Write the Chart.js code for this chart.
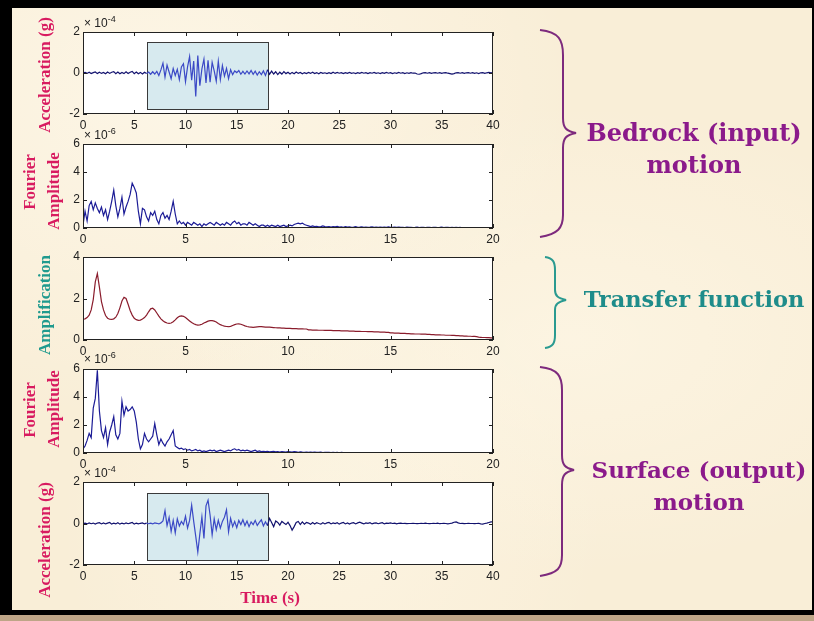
<!DOCTYPE html>
<html>
<head>
<meta charset="utf-8">
<script src="https://cdn.jsdelivr.net/npm/chart.js@4/dist/chart.umd.min.js"></script>
<style>
  html, body { margin: 0; padding: 0; }
  body { width: 814px; height: 621px; position: relative; overflow: hidden; background: #bea587; }
  #borde { position: absolute; left: 0; top: 0; width: 814px; height: 615px; background: #000; }
  #papel {
    position: absolute; left: 12px; top: 8px; width: 800px; height: 602px;
    background:
      radial-gradient(ellipse at 20% 15%, rgba(255,251,240,0.6), rgba(255,251,240,0) 45%),
      radial-gradient(ellipse at 70% 55%, rgba(255,250,236,0.5), rgba(255,250,236,0) 50%),
      radial-gradient(ellipse at 40% 85%, rgba(255,249,234,0.5), rgba(255,249,234,0) 40%),
      #f9eed7;
  }
  canvas { position: absolute; left: 12px; }
  .ytit {
    position: absolute; white-space: nowrap;
    font: bold 17px "Liberation Serif", "Times New Roman", serif;
    color: #d81b60;
    transform: translate(-50%, -50%) rotate(-90deg);
  }
  .teal { color: #1f9a8e; }
  .expo { position: absolute; font: 12px "Liberation Sans", Arial, sans-serif; color: #222; white-space: nowrap; }
  .expo sup { font-size: 9px; vertical-align: 5px; }
  .lado {
    position: absolute; left: 563px; width: 262px; text-align: center;
    font: bold 24px "DejaVu Serif", serif; line-height: 32px; color: #8b1a8b;
  }
  #tiempoTit { position: absolute; left: 270px; top: 598px; transform: translate(-50%, -50%);
    font: bold 17px "Liberation Serif", serif; color: #d81b60; white-space: nowrap; }
  svg { position: absolute; left: 0; top: 0; }
</style>
</head>
<body>
<div id="borde"></div>
<div id="papel"></div>

<canvas id="acelRoca" width="500" height="116" style="top:20px"></canvas>
<canvas id="fourierRoca" width="500" height="118" style="top:132px"></canvas>
<canvas id="transferencia" width="500" height="117" style="top:245px"></canvas>
<canvas id="fourierSuperficie" width="500" height="118" style="top:357px"></canvas>
<canvas id="acelSuperficie" width="500" height="117" style="top:470px"></canvas>

<div class="expo" style="left:84px; top:14px">× 10<sup>-4</sup></div>
<div class="expo" style="left:84px; top:126px">× 10<sup>-6</sup></div>
<div class="expo" style="left:84px; top:350px">× 10<sup>-6</sup></div>
<div class="expo" style="left:84px; top:464px">× 10<sup>-4</sup></div>

<div class="ytit" style="left:45px; top:75px">Acceleration (g)</div>
<div class="ytit" style="left:30px; top:182px">Fourier</div>
<div class="ytit" style="left:54px; top:191px">Amplitude</div>
<div class="ytit teal" style="left:45px; top:305px">Amplification</div>
<div class="ytit" style="left:30px; top:410px">Fourier</div>
<div class="ytit" style="left:54px; top:409px">Amplitude</div>
<div class="ytit" style="left:45px; top:540px">Acceleration (g)</div>
<div id="tiempoTit">Time (s)</div>

<svg width="814" height="621">
  <path d="M540,30 C559,32 563,40 563,55 L563,118 C563,128 566,131 576,133 C566,135 563,138 563,148 L563,215 C563,228 558,234 540,237"
        fill="none" stroke="#7d2a7d" stroke-width="2"/>
  <path d="M545,257 C553,258 555,262 555,270 L555,290 C555,296 558,298 566,300 C558,302 555,304 555,310 L555,335 C555,343 553,347 545,348"
        fill="none" stroke="#2a9a90" stroke-width="2"/>
  <path d="M540,367 C558,369 562,376 562,390 L562,455 C562,465 565,468 574,470 C565,472 562,475 562,485 L562,555 C562,568 558,573 540,576"
        fill="none" stroke="#7d2a7d" stroke-width="2"/>
</svg>

<div class="lado" style="top:117px">Bedrock (input)<br>motion</div>
<div class="lado" style="top:283px; color:#1e8c8a; font-size:22.5px">Transfer function</div>
<div class="lado" style="top:454px; left:568px; font-size:23px">Surface (output)<br>motion</div>

<script>
// Rejillas de muestreo
const tiempo = Array.from({ length: 201 }, (_, i) => +(i * 0.2).toFixed(1));      // s
const frecuencia = Array.from({ length: 201 }, (_, i) => +(i * 0.1).toFixed(1));  // Hz

// Aceleración en roca (x 10^-4 g), cada 0.2 s
const acelRoca = [
  0.00, 0.03, -0.02, 0.04, -0.03, 0.02, 0.05, -0.03, 0.04, -0.02,
  0.03, -0.04, 0.05, -0.02, 0.04, 0.07, -0.03, 0.05, -0.04, 0.03,
  -0.03, 0.06, -0.02, 0.04, 0.08, -0.03, 0.05, -0.04, 0.03, -0.05,
  0.04, -0.03, 0.05, -0.06, 0.06, -0.05, 0.08, -0.12, 0.15, 0.48,
  -0.20, 0.38, 0.05, -0.28, 0.22, -0.12, 0.18, -0.32, 0.30, 0.45,
  -0.42, 0.30, 0.80, -0.35, 0.58, -1.15, 0.85, -0.62, 0.20, 0.68,
  -0.48, 0.62, -0.45, 0.52, 0.10, -0.40, 0.58, -0.32, 0.36, -0.15,
  0.22, -0.28, 0.16, -0.08, 0.10, 0.02, 0.12, -0.06, 0.08, -0.05,
  0.10, -0.04, 0.12, -0.06, 0.09, -0.10, 0.06, -0.08, 0.10, -0.12,
  0.16, -0.06, 0.09, -0.05, 0.06, -0.08, 0.04, -0.05, 0.07, -0.03,
  0.04, -0.05, 0.03, -0.04, 0.05, -0.02, 0.03, -0.04, 0.02, -0.03,
  0.03, -0.02, 0.04, -0.03, 0.02, -0.04, 0.03, -0.02, 0.01, -0.03,
  0.02, -0.03, 0.04, -0.02, 0.03, -0.01, 0.02, -0.03, 0.02, -0.02,
  0.03, -0.02, 0.01, -0.03, 0.02, -0.02, 0.03, -0.01, 0.02, -0.03,
  0.02, -0.01, 0.03, -0.02, 0.01, -0.03, 0.02, -0.02, 0.03, -0.01,
  0.02, -0.03, 0.01, -0.02, 0.03, -0.01, 0.02, -0.03, 0.01, -0.02,
  0.02, -0.01, 0.00, -0.05, -0.06, -0.03, 0.01, 0.02, -0.01, 0.02,
  -0.02, 0.01, 0.02, -0.01, 0.02, -0.02, 0.01, 0.02, -0.01, -0.03,
  -0.05, -0.03, 0.01, 0.02, -0.01, 0.02, -0.02, 0.01, 0.02, -0.01,
  0.02, -0.02, 0.01, -0.03, 0.01, 0.02, -0.02, 0.01, 0.03, 0.01,
  0.02
];

// Espectro de Fourier en roca (x 10^-6), cada 0.1 Hz
const fourierRoca = [
  0.2, 1.2, 0.5, 1.6, 1.9, 1.3, 1.8, 1.4, 1.1, 1.5,
  0.9, 1.3, 0.6, 1.2, 1.9, 2.7, 1.6, 0.8, 1.4, 2.2,
  1.0, 1.5, 1.9, 2.4, 3.2, 2.9, 2.5, 1.2, 0.3, 1.4,
  1.3, 0.8, 0.5, 1.1, 0.9, 1.2, 0.6, 0.3, 0.9, 1.1,
  0.7, 0.9, 0.6, 1.2, 1.9, 1.0, 0.3, 0.5, 0.3, 0.4,
  0.2, 0.4, 0.3, 0.2, 0.4, 0.3, 0.2, 0.3, 0.1, 0.3,
  0.2, 0.3, 0.4, 0.3, 0.2, 0.4, 0.3, 0.2, 0.3, 0.2,
  0.4, 0.3, 0.2, 0.4, 0.5, 0.3, 0.4, 0.2, 0.3, 0.3,
  0.2, 0.4, 0.3, 0.2, 0.3, 0.2, 0.1, 0.2, 0.2, 0.1,
  0.2, 0.1, 0.2, 0.15, 0.1, 0.2, 0.1, 0.15, 0.2, 0.1,
  0.15, 0.2, 0.15, 0.25, 0.3, 0.35, 0.3, 0.35, 0.25, 0.2,
  0.15, 0.1, 0.15, 0.1, 0.12, 0.08, 0.1, 0.15, 0.1, 0.08,
  0.1, 0.06, 0.1, 0.08, 0.12, 0.06, 0.08, 0.05, 0.1, 0.06,
  0.08, 0.05, 0.07, 0.1, 0.05, 0.06, 0.08, 0.04, 0.07, 0.05,
  0.06, 0.08, 0.04, 0.06, 0.05, 0.07, 0.04, 0.06, 0.05, 0.08,
  0.05, 0.04, 0.06, 0.05, 0.07, 0.04, 0.05, 0.03, 0.06, 0.04,
  0.05, 0.03, 0.04, 0.06, 0.03, 0.05, 0.04, 0.03, 0.05, 0.04,
  0.03, 0.05, 0.04, 0.03, 0.04, 0.06, 0.03, 0.04, 0.05, 0.03,
  0.04, 0.03, 0.05, 0.03, 0.04, 0.00, 0.00, 0.00, 0.00, 0.00,
  0.00, 0.00, 0.00, 0.00, 0.00, 0.00, 0.00, 0.00, 0.00, 0.00,
  0.00
];

// Función de transferencia (amplificación), cada 0.1 Hz
const amplificacion = [
  1.00, 1.02, 1.08, 1.20, 1.45, 1.95, 2.80, 3.20, 2.55, 1.85,
  1.45, 1.18, 1.05, 1.00, 0.99, 1.02, 1.10, 1.28, 1.55, 1.88,
  2.06, 2.00, 1.72, 1.42, 1.20, 1.05, 0.98, 0.95, 0.96, 1.01,
  1.08, 1.20, 1.36, 1.50, 1.53, 1.45, 1.30, 1.15, 1.02, 0.93,
  0.86, 0.82, 0.80, 0.82, 0.88, 0.97, 1.07, 1.14, 1.16, 1.14,
  1.08, 1.00, 0.92, 0.84, 0.78, 0.74, 0.72, 0.73, 0.76, 0.82,
  0.86, 0.91, 0.93, 0.93, 0.91, 0.87, 0.80, 0.74, 0.70, 0.67,
  0.65, 0.64, 0.66, 0.70, 0.74, 0.77, 0.78, 0.76, 0.72, 0.68,
  0.65, 0.63, 0.62, 0.61, 0.62, 0.63, 0.64, 0.64, 0.63, 0.62,
  0.62, 0.62, 0.61, 0.60, 0.59, 0.58, 0.58, 0.57, 0.57, 0.56,
  0.56, 0.56, 0.55, 0.55, 0.55, 0.54, 0.54, 0.54, 0.53, 0.53,
  0.49, 0.49, 0.48, 0.48, 0.48, 0.47, 0.47, 0.47, 0.46, 0.46,
  0.46, 0.46, 0.45, 0.45, 0.45, 0.45, 0.44, 0.44, 0.44, 0.44,
  0.43, 0.43, 0.43, 0.42, 0.42, 0.42, 0.41, 0.41, 0.41, 0.40,
  0.40, 0.40, 0.39, 0.39, 0.39, 0.38, 0.38, 0.38, 0.37, 0.37,
  0.34, 0.34, 0.33, 0.33, 0.33, 0.32, 0.32, 0.32, 0.31, 0.31,
  0.30, 0.30, 0.29, 0.29, 0.29, 0.28, 0.28, 0.28, 0.27, 0.27,
  0.26, 0.26, 0.25, 0.25, 0.25, 0.24, 0.24, 0.23, 0.23, 0.23,
  0.22, 0.22, 0.21, 0.21, 0.20, 0.20, 0.19, 0.19, 0.18, 0.18,
  0.17, 0.17, 0.16, 0.14, 0.13, 0.12, 0.12, 0.11, 0.11, 0.10,
  0.10
];

// Espectro de Fourier en superficie (x 10^-6), cada 0.1 Hz
const fourierSuperficie = [
  0.3, 0.5, 0.9, 1.4, 1.1, 3.2, 3.9, 5.9, 3.0, 1.6,
  1.1, 1.8, 0.6, 1.5, 2.0, 2.6, 1.3, 1.0, 1.4, 3.7,
  2.7, 3.3, 3.0, 3.1, 3.3, 3.0, 2.2, 1.0, 0.3, 0.6,
  1.4, 1.0, 0.8, 1.0, 1.2, 2.1, 1.3, 0.6, 1.0, 0.7,
  0.5, 0.8, 1.0, 1.3, 1.6, 0.5, 0.4, 0.3, 0.35, 0.25,
  0.3, 0.2, 0.25, 0.15, 0.2, 0.25, 0.15, 0.2, 0.1, 0.15,
  0.1, 0.15, 0.2, 0.15, 0.2, 0.1, 0.15, 0.2, 0.15, 0.1,
  0.15, 0.2, 0.15, 0.25, 0.3, 0.2, 0.25, 0.15, 0.2, 0.15,
  0.2, 0.15, 0.1, 0.15, 0.2, 0.1, 0.15, 0.1, 0.12, 0.1,
  0.12, 0.08, 0.1, 0.12, 0.08, 0.1, 0.06, 0.1, 0.08, 0.06,
  0.1, 0.08, 0.06, 0.1, 0.08, 0.05, 0.08, 0.06, 0.05, 0.07,
  0.05, 0.06, 0.04, 0.06, 0.05, 0.04, 0.06, 0.03, 0.05, 0.04,
  0.04, 0.03, 0.05, 0.03, 0.04, 0.02, 0.04, 0.03, 0.02, 0.03,
  0.02, 0.03, 0.02, 0.02, 0.01, 0.02, 0.01, 0.02, 0.01, 0.01,
  0.02, 0.01, 0.02, 0.01, 0.02, 0.01, 0.01, 0.02, 0.01, 0.02,
  0.01, 0.02, 0.01, 0.01, 0.02, 0.01, 0.02, 0.01, 0.01, 0.02,
  0.01, 0.01, 0.02, 0.01, 0.01, 0.02, 0.01, 0.01, 0.02, 0.01,
  0.01, 0.02, 0.01, 0.01, 0.01, 0.02, 0.01, 0.01, 0.01, 0.02,
  0.01, 0.01, 0.02, 0.01, 0.01, 0.01, 0.01, 0.02, 0.01, 0.01,
  0.01, 0.01, 0.01, 0.02, 0.01, 0.01, 0.01, 0.01, 0.01, 0.01,
  0.01
];

// Aceleración en superficie (x 10^-4 g), cada 0.2 s
const acelSuperficie = [
  0.00, 0.02, -0.02, 0.03, -0.01, 0.02, -0.03, 0.02, 0.04, -0.02,
  0.03, -0.02, 0.02, 0.05, -0.03, 0.02, -0.02, 0.04, -0.03, 0.02,
  -0.02, 0.03, -0.01, 0.02, 0.05, -0.03, 0.02, -0.02, 0.01, 0.03,
  -0.02, 0.02, -0.01, 0.02, -0.02, 0.03, 0.01, -0.02, 0.03, 0.12,
  0.62, -0.10, 0.30, -0.38, 0.15, -0.45, 0.22, -0.12, 0.10, -0.05,
  0.35, -0.22, 0.15, 0.88, 0.10, -0.62, -1.38, -0.50, 0.32, -0.72,
  0.85, 1.12, 0.40, -0.55, 0.22, -0.30, 0.15, -0.22, 0.10, 0.30,
  0.66, -0.40, 0.25, -0.15, 0.10, -0.20, 0.15, -0.05, 0.18, -0.10,
  0.12, -0.15, 0.08, -0.05, 0.15, -0.10, 0.05, 0.18, -0.12, 0.08,
  -0.10, 0.25, 0.05, -0.15, 0.12, 0.05, -0.08, 0.10, 0.02, -0.05,
  0.06, -0.10, -0.32, -0.15, 0.05, 0.10, -0.05, 0.08, -0.03, 0.05,
  0.02, -0.04, 0.05, -0.02, 0.04, 0.00, -0.03, 0.04, -0.02, 0.03,
  0.05, -0.02, 0.03, 0.00, 0.04, -0.03, 0.02, 0.05, -0.02, 0.03,
  -0.03, 0.02, 0.04, -0.02, 0.03, 0.06, 0.02, -0.02, 0.03, 0.01,
  0.04, -0.02, 0.02, 0.03, -0.01, 0.02, 0.04, -0.02, 0.02, 0.01,
  0.03, 0.00, 0.02, -0.02, 0.01, 0.02, 0.00, 0.01, -0.01, 0.00,
  0.00, 0.01, 0.00, -0.01, 0.00, 0.01, 0.00, 0.02, 0.00, -0.01,
  0.00, 0.01, 0.00, 0.02, -0.01, 0.00, 0.01, 0.00, -0.02, 0.00,
  0.02, 0.06, 0.08, 0.03, 0.00, 0.01, -0.01, 0.00, 0.01, 0.00,
  0.00, -0.01, 0.00, 0.01, -0.02, -0.03, 0.00, 0.02, 0.05, 0.08,
  0.08
];

// Ventana de movimiento fuerte [t inicio, t fin, y min, y max]
const ventanaRoca = [6.2, 18, -1.75, 1.5];
const ventanaSuperficie = [6.2, 18, -1.75, 1.45];

const azulOscuro = '#12126e';
const azulClaro = '#3b49c6';

Chart.defaults.font.family = '"Liberation Sans", Arial, sans-serif';
Chart.defaults.font.size = 12;
Chart.defaults.color = '#222';

// Marco estilo MATLAB: fondo blanco, caja, ventana sombreada y marcas hacia dentro
const marcoMatlab = {
    id: 'marcoMatlab',
    beforeDraw(chart) {
        const { ctx, chartArea: a } = chart;
        ctx.save();
        ctx.fillStyle = '#ffffff';
        ctx.fillRect(a.left, a.top, a.width, a.height);
        ctx.restore();
    },
    beforeDatasetsDraw(chart, args, opts) {
        const v = opts.ventana;
        if (!v) return;
        const { ctx, scales: { x, y } } = chart;
        const x0 = Math.round(x.getPixelForValue(v[0]));
        const x1 = Math.round(x.getPixelForValue(v[1]));
        const y0 = Math.round(y.getPixelForValue(v[3]));
        const y1 = Math.round(y.getPixelForValue(v[2]));
        ctx.save();
        ctx.fillStyle = '#d7eaef';
        ctx.fillRect(x0, y0, x1 - x0, y1 - y0);
        ctx.strokeStyle = '#3a3a3a';
        ctx.lineWidth = 1;
        ctx.strokeRect(x0 + 0.5, y0 + 0.5, x1 - x0, y1 - y0);
        ctx.restore();
    },
    afterDraw(chart) {
        const { ctx, chartArea: a, scales: { x, y } } = chart;
        ctx.save();
        ctx.strokeStyle = '#222';
        ctx.lineWidth = 1;
        ctx.strokeRect(a.left + 0.5, a.top + 0.5, a.width - 1, a.height - 1);
        ctx.beginPath();
        x.ticks.forEach(t => {
            const px = Math.round(x.getPixelForValue(t.value)) + 0.5;
            ctx.moveTo(px, a.bottom); ctx.lineTo(px, a.bottom - 4);
            ctx.moveTo(px, a.top); ctx.lineTo(px, a.top + 4);
        });
        y.ticks.forEach(t => {
            const py = Math.round(y.getPixelForValue(t.value)) + 0.5;
            ctx.moveTo(a.left, py); ctx.lineTo(a.left + 4, py);
            ctx.moveTo(a.right, py); ctx.lineTo(a.right - 4, py);
        });
        ctx.stroke();
        ctx.restore();
    }
};

function crearPanel(id, xs, ys, cfg) {
    return new Chart(document.getElementById(id), {
        type: 'line',
        data: {
            datasets: [{
                data: xs.map((x, i) => ({ x: x, y: ys[i] })),
                borderColor: cfg.color,
                borderWidth: 1.2,
                pointRadius: 0,
                tension: 0,
                segment: cfg.segment
            }]
        },
        options: {
            responsive: false,
            animation: false,
            layout: { padding: { top: 12, right: 19, bottom: 0, left: 0 } },
            plugins: {
                legend: { display: false },
                tooltip: { enabled: false },
                marcoMatlab: { ventana: cfg.ventana }
            },
            scales: {
                x: {
                    type: 'linear', min: 0, max: cfg.xMax,
                    ticks: { stepSize: 5, padding: 4, maxRotation: 0, autoSkip: false, color: '#222' },
                    grid: { display: false, drawTicks: false }, border: { display: false },
                    afterFit: s => { s.height = 22; }
                },
                y: {
                    min: cfg.yMin, max: cfg.yMax,
                    ticks: { stepSize: cfg.yPaso, padding: 3, color: '#222' },
                    grid: { display: false, drawTicks: false }, border: { display: false },
                    afterFit: s => { s.width = 71; }
                }
            }
        },
        plugins: [marcoMatlab]
    });
}

// Color más claro dentro de la ventana sombreada
function colorVentana(v) {
    return ctx => (ctx.p0.parsed.x >= v[0] && ctx.p1.parsed.x <= v[1]) ? azulClaro : azulOscuro;
}

crearPanel('acelRoca', tiempo, acelRoca, {
    color: azulOscuro, xMax: 40, yMin: -2, yMax: 2, yPaso: 2,
    ventana: ventanaRoca, segment: { borderColor: colorVentana(ventanaRoca) }
});
crearPanel('fourierRoca', frecuencia, fourierRoca, {
    color: '#1c1c96', xMax: 20, yMin: 0, yMax: 6, yPaso: 2
});
crearPanel('transferencia', frecuencia, amplificacion, {
    color: '#8a1c2c', xMax: 20, yMin: 0, yMax: 4, yPaso: 2
});
crearPanel('fourierSuperficie', frecuencia, fourierSuperficie, {
    color: '#1c1c96', xMax: 20, yMin: 0, yMax: 6, yPaso: 2
});
crearPanel('acelSuperficie', tiempo, acelSuperficie, {
    color: azulOscuro, xMax: 40, yMin: -2, yMax: 2, yPaso: 2,
    ventana: ventanaSuperficie, segment: { borderColor: colorVentana(ventanaSuperficie) }
});
</script>
</body>
</html>
